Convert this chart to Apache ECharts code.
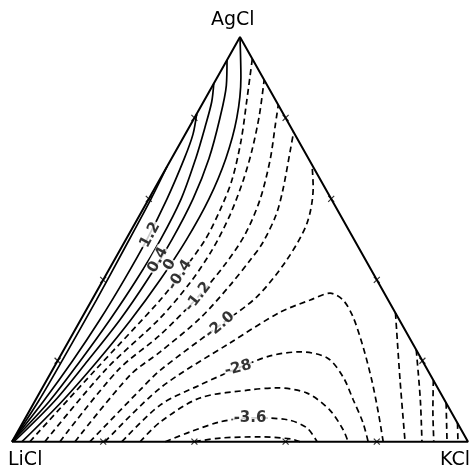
<!DOCTYPE html>
<html>
<head>
<meta charset="utf-8">
<script src="https://cdn.jsdelivr.net/npm/echarts@6/dist/echarts.min.js"></script>
<style>
  html, body { margin: 0; padding: 0; background: #fff; }
  #chart { width: 472px; height: 469px; }
</style>
</head>
<body>
<div id="chart"></div>
<script>
// Compositions are given as [AgCl mol %, KCl mol %]; LiCl makes up the rest.
const vertexNames = ['AgCl', 'LiCl', 'KCl'];
const vertices = { LiCl: [0, 0], KCl: [0, 100], AgCl: [100, 0] };

// Isolines of the property over the AgCl-LiCl-KCl triangle
const iso_p1_6 = [[0,0],[10,0.8],[22,1.0],[35,1.0],[47,0.8],[60,0.5],[68,0]];
const iso_p1_2 = [[0,0],[10,1.9],[20,3.3],[30,4.2],[40,4.6],[50,4.6],[60,4.0],[70,2.8],[76,1.7],[81,0]];
const iso_p0_8 = [[0,0],[10,3.2],[20,5.0],[30,6.4],[40,7.3],[50,7.6],[60,7.1],[70,5.3],[78,3.4],[84,1.8],[88.5,0]];
const iso_p0_4 = [[0,0.4],[10,4.3],[20,6.6],[30,8.6],[40,9.7],[50,10.1],[60,9.7],[70,8.2],[80,5.6],[88,3.0],[94.3,0]];
const iso_0    = [[0,2.2],[10,6.0],[20,8.8],[30,11.0],[40,12.5],[50,13.3],[60,13.2],[70,11.9],[80,9.3],[90,5.2],[100,0]];

const iso_m0_4 = [[0,3.9],[17.7,9.4],[35,15],[41.2,16.2],[49.8,17.4],[57.3,17],[64.7,15.9],[74.5,13],[84.4,9.3],[94.6,5.4]];
const iso_m0_8 = [[0,7.2],[17.7,11.6],[30.5,17.2],[39.2,19.4],[47.4,20.2],[56,19.8],[64.7,18.4],[72.1,16.6],[80.7,13.9],[89.4,10.6]];
const iso_m1_2 = [[0,10.5],[17.7,14.4],[26.4,19.3],[35.8,22.9],[43.7,24.8],[51.1,25.5],[59.7,24.5],[69.6,21.8],[78.3,18.6],[83.2,16.8]];
const iso_m1_6 = [[0,13.8],[16.5,17.7],[22.2,21.4],[30.5,26],[38.7,28.5],[44.9,29.8],[49.1,30.4],[56,29.9],[62.2,28.3],[72.1,25],[76.5,23.5]];
const iso_m2_0 = [[0,17.1],[12.8,21.7],[17.7,23.7],[28.8,31.2],[35.8,35.8],[44.9,37.8],[54,37.7],[62.9,34.6],[68.4,31.6]];
const iso_m2_4 = [[0,20.4],[13.3,25.9],[24.4,35.6],[32,42.8],[35,47.9],[36.7,51.4],[35,55.1],[30.8,59.4],[23.4,65.3],[15.2,71.3],[7.1,76.8],[0,81.4]];
const iso_m2_8 = [[0,24.1],[9.1,28],[14,34.2],[18.2,40.5],[21.2,46],[22.2,52.1],[20.7,58.8],[16,64.6],[10.3,69.7],[4.6,74.7],[0,78.1]];
const iso_m3_2 = [[0,28.1],[4.9,30.1],[10.8,35.8],[12.8,45.8],[13.3,51.5],[12,58.7],[7.8,65.8],[2.9,71.2],[0,73.7]];
const iso_m3_6 = [[0,33.6],[2.4,37.8],[4.9,43.2],[5.9,49.3],[5.4,57.8],[3.4,63],[0,66.9]];
const iso_m4_0 = [[0,40.1],[0.9,45.2],[1.2,53.8],[0.7,60.7],[0,63.2]];

// Branches near the KCl corner
const iso_m2_0_k = [[31.8,68.2],[15.2,77.5],[0,86.2]];
const iso_m1_6_k = [[22.7,77.3],[10.3,84.4],[0,89.9]];
const iso_m1_2_k = [[15.2,84.8],[7.8,88.4],[0,92.5]];
const iso_m0_8_k = [[9.6,90.4],[0,95.4]];
const iso_m0_4_k = [[4.6,95.4],[0,97.8]];

// Isoline labels and where they sit
const labelTexts = ['1.2', '0.4', '0', '-0.4', '-1.2', '-2.0', '-28', '-3.6'];
const labelComps = [[51.1,4.75],[44.9,9.55],[43.7,12.75],[41.2,16.2],[35.8,22.9],[28.8,31.2],[18.2,40.5],[5.9,49.25]];

// Composition marks along the sides (mol %)
const sideMarks = [20, 40, 60, 80];

// ---- drawing ----
const labelAngles = [62, 62, 60, 58, 52, 40, 15, 0];
const toXY = p => [p[1] + p[0] / 2, p[0]];

const solidSet = [iso_p1_6, iso_p1_2, iso_p0_8, iso_p0_4, iso_0];
const dashedSet = [iso_m0_4, iso_m0_8, iso_m1_2, iso_m1_6, iso_m2_0, iso_m2_4, iso_m2_8,
                   iso_m3_2, iso_m3_6, iso_m4_0,
                   iso_m2_0_k, iso_m1_6_k, iso_m1_2_k, iso_m0_8_k, iso_m0_4_k];

const series = [];

series.push({
  type: 'line',
  data: [vertices.LiCl, vertices.KCl, vertices.AgCl, vertices.LiCl].map(toXY),
  showSymbol: false, clip: false, silent: true, z: 6,
  lineStyle: { color: '#000', width: 2 }
});

solidSet.forEach(line => series.push({
  type: 'line', data: line.map(toXY), smooth: 0.3, showSymbol: false, clip: false, silent: true, z: 3,
  lineStyle: { color: '#000', width: 1.7 }
}));

dashedSet.forEach(line => series.push({
  type: 'line', data: line.map(toXY), smooth: 0.3, showSymbol: false, clip: false, silent: true, z: 3,
  lineStyle: { color: '#000', width: 1.7, type: [6, 4] }
}));

// small crosses at the 20 % steps of each side
const markPts = [];
sideMarks.forEach(v => {
  markPts.push([v, 0]);        // AgCl-LiCl side
  markPts.push([v, 100 - v]);  // AgCl-KCl side
  markPts.push([0, v]);        // LiCl-KCl side
});
series.push({
  type: 'scatter', data: markPts.map(toXY), silent: true, z: 7,
  symbol: 'path://M0,0L10,10M10,0L0,10', symbolSize: 6,
  itemStyle: { color: 'none', borderColor: '#000', borderWidth: 1.2 }
});

series.push({
  type: 'scatter', symbolSize: 0, silent: true, z: 10,
  itemStyle: { color: '#000' },
  data: labelTexts.map((t, i) => ({
    value: toXY(labelComps[i]),
    label: { formatter: t, rotate: labelAngles[i] }
  })),
  label: {
    show: true, position: 'inside', color: '#000', fontSize: 15, fontWeight: 'bold',
    fontFamily: 'DejaVu Sans', backgroundColor: '#fff', padding: [0, 1],
    textBorderWidth: 0
  }
});

const chart = echarts.init(document.getElementById('chart'), null, { renderer: 'canvas' });
chart.setOption({
  animation: false,
  backgroundColor: '#fff',
  grid: { left: 12, right: 4, top: 37, bottom: 27.3, containLabel: false },
  xAxis: { type: 'value', min: 0, max: 100, show: false },
  yAxis: { type: 'value', min: 0, max: 100, show: false },
  graphic: [
    { type: 'text', left: 211, top: 11, style: { text: vertexNames[0], font: '19px "DejaVu Sans"', fill: '#000' } },
    { type: 'text', left: 8, top: 451, style: { text: vertexNames[1], font: '19px "DejaVu Sans"', fill: '#000' } },
    { type: 'text', right: 2, top: 451, style: { text: vertexNames[2], font: '19px "DejaVu Sans"', fill: '#000' } }
  ],
  series: series
});
</script>
</body>
</html>
